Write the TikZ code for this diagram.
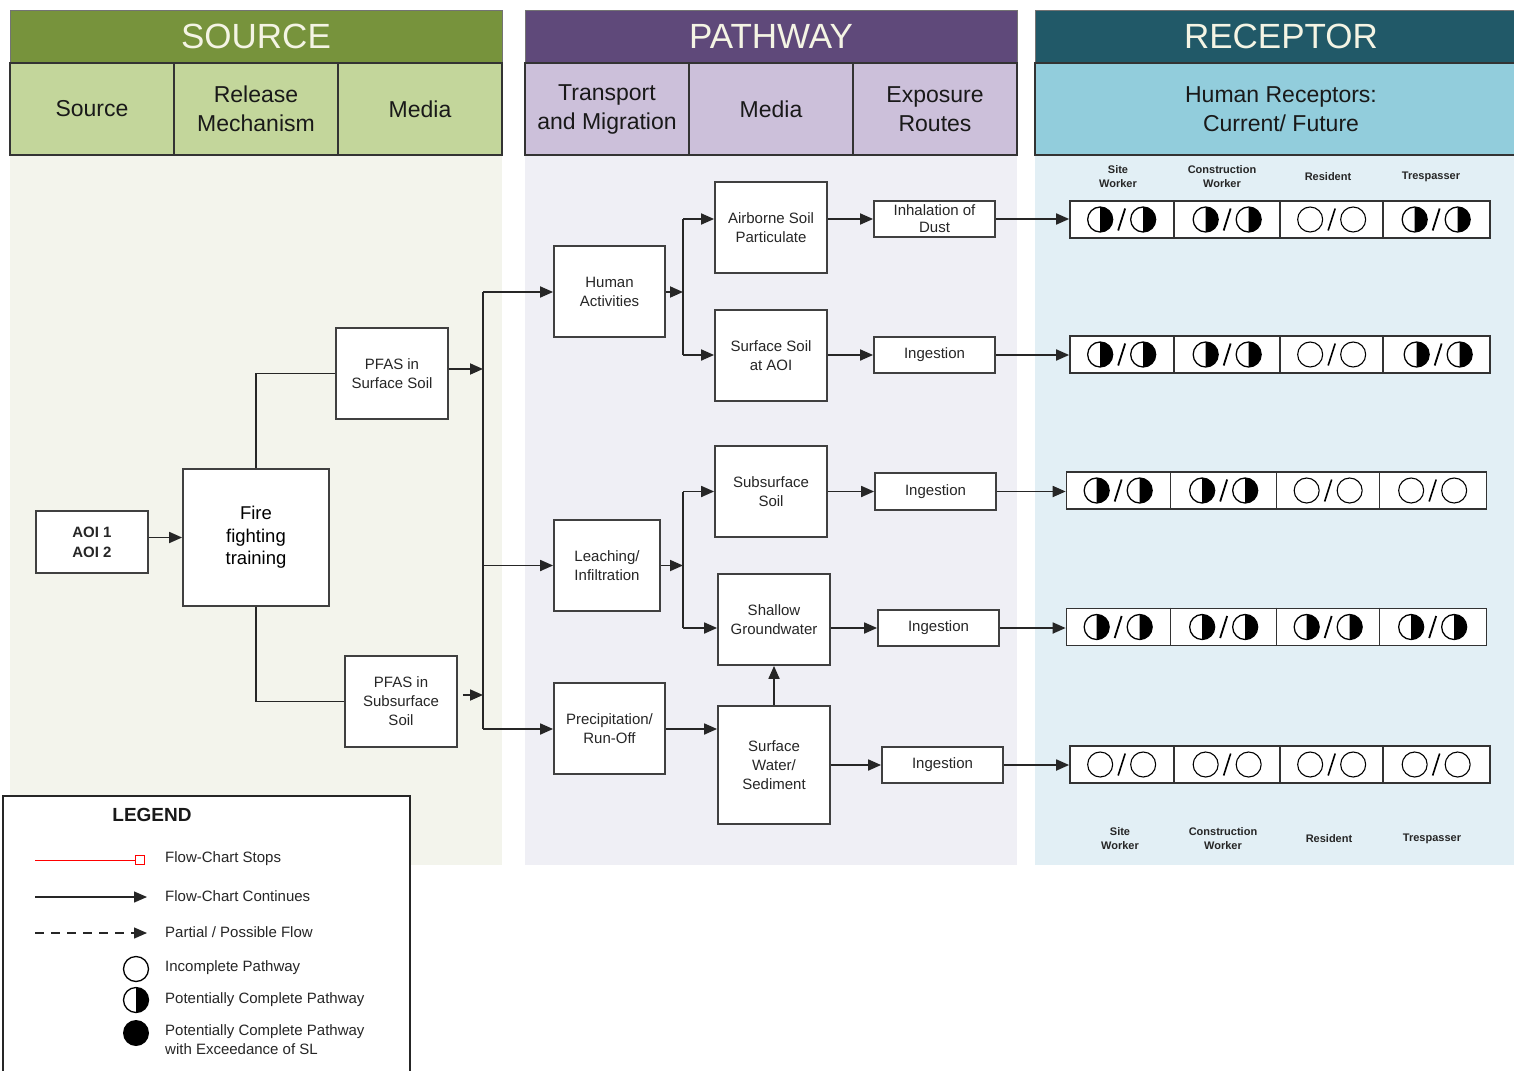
\documentclass[tikz,border=0pt]{standalone}
\usepackage{fontspec}
\setmainfont{Liberation Sans}
\usetikzlibrary{arrows.meta,calc}
\definecolor{srcH}{HTML}{77933C}
\definecolor{srcS}{HTML}{C3D69B}
\definecolor{srcB}{HTML}{F3F4EC}
\definecolor{patH}{HTML}{5F497A}
\definecolor{patS}{HTML}{CCC0DA}
\definecolor{patB}{HTML}{EFEFF5}
\definecolor{recH}{HTML}{215968}
\definecolor{recS}{HTML}{92CDDC}
\definecolor{recB}{HTML}{E2EFF5}
\definecolor{hdrtxt}{HTML}{F4F4E4}
\tikzset{
 box/.style={draw=black!75, fill=white, line width=1.8pt, align=center, inner sep=0pt,
   font=\fontsize{15}{19}\selectfont, text=black!85},
 arr/.style={draw=black!85, line width=1.8pt, -{Triangle[length=13pt,width=11pt]}},
 conn/.style={draw=black!85, line width=1.8pt},
 hdr/.style={draw=black!55, line width=0.8pt, inner sep=0pt, text=hdrtxt,
   font=\fontsize{35}{40}\selectfont},
 subcell/.style={draw=black!80, line width=1.4pt, inner sep=0pt, align=center,
   font=\fontsize{23}{29}\selectfont, text=black!90},
 rlab/.style={font=\bfseries\fontsize{11}{14}\selectfont, align=center, text=black!85, inner sep=0pt},
 rowbox/.style={draw=black!80, fill=white, line width=1.7pt, minimum width=420pt,
   minimum height=37pt, inner sep=0pt},
 legtext/.style={anchor=west, font=\fontsize{15}{19}\selectfont, text=black!85, align=left, inner sep=0pt},
 hh/.pic={
   \fill[black] (-21.5,12.5) arc[start angle=-90,end angle=90,radius=12.5pt] -- cycle;
   \draw[line width=1.3pt] (-21.5,0) circle[radius=12.5pt];
   \fill[black] (21.5,12.5) arc[start angle=-90,end angle=90,radius=12.5pt] -- cycle;
   \draw[line width=1.3pt] (21.5,0) circle[radius=12.5pt];
   \draw[line width=1.8pt] (-3.5,11) -- (3.5,-11);
 },
 oo/.pic={
   \draw[line width=1.1pt] (-21.5,0) circle[radius=12.5pt];
   \draw[line width=1.1pt] (21.5,0) circle[radius=12.5pt];
   \draw[line width=1.6pt] (-3.5,11) -- (3.5,-11);
 },
 hone/.pic={
   \fill[black] (0,12.5) arc[start angle=-90,end angle=90,radius=12.5pt] -- cycle;
   \draw[line width=1.3pt] (0,0) circle[radius=12.5pt];
 },
}
\begin{document}
\begin{tikzpicture}[x=1pt,y=-1pt]
\useasboundingbox (0,0) rectangle (1514,1070);
\fill[white] (0,0) rectangle (1514,1070);
% column bodies
\fill[srcB] (10,155) rectangle (502,865);
\fill[patB] (525,155) rectangle (1017,865);
\fill[recB] (1035,155) rectangle (1530,865);
% headers
\node[hdr, fill=srcH, minimum width=492pt, minimum height=53pt] (hS) at (256,36.5) {SOURCE};
\node[subcell, fill=srcS, minimum width=164pt, minimum height=92pt] (s1) at (92,109) {Source};
\node[subcell, fill=srcS, minimum width=164pt, minimum height=92pt] (s2) at (256,109) {Release\\Mechanism};
\node[subcell, fill=srcS, minimum width=164pt, minimum height=92pt] (s3) at (420,109) {Media};
\node[hdr, fill=patH, minimum width=492pt, minimum height=53pt] (hP) at (771,36.5) {PATHWAY};
\node[subcell, fill=patS, minimum width=164pt, minimum height=92pt] (p1) at (607,109) {Transport\\and Migration};
\node[subcell, fill=patS, minimum width=164pt, minimum height=92pt] (p2) at (771,109) {Media};
\node[subcell, fill=patS, minimum width=164pt, minimum height=92pt] (p3) at (935,109) {Exposure\\Routes};
\node[hdr, fill=recH, minimum width=492pt, minimum height=53pt] (hR) at (1281,36.5) {RECEPTOR};
\node[subcell, fill=recS, minimum width=492pt, minimum height=92pt] (r1) at (1281,109) {Human Receptors:\\Current/ Future};

% source boxes
\node[box, minimum width=112pt, minimum height=62pt, font=\bfseries\fontsize{15}{20}\selectfont] (aoi) at (92,542) {AOI 1\\AOI 2};
\node[box, minimum width=146pt, minimum height=137pt, font=\fontsize{18.5}{22.5}\selectfont, text=black] (fire) at (256,537.5) {Fire\\fighting\\training};
\node[box, minimum width=112pt, minimum height=91pt] (pss) at (392,373.5) {PFAS in\\Surface Soil};
\node[box, minimum width=112pt, minimum height=91pt] (psub) at (401,701.5) {PFAS in\\Subsurface\\Soil};
% pathway boxes
\node[box, minimum width=111pt, minimum height=91pt] (hum) at (609.5,291.5) {Human\\Activities};
\node[box, minimum width=106pt, minimum height=91pt] (leach) at (607,565.5) {Leaching/\\Infiltration};
\node[box, minimum width=111pt, minimum height=91pt] (precip) at (609.5,728.5) {Precipitation/\\Run-Off};
\node[box, minimum width=112pt, minimum height=91pt] (air) at (771,227.5) {Airborne Soil\\Particulate};
\node[box, minimum width=112pt, minimum height=91pt] (ssa) at (771,355.5) {Surface Soil\\at AOI};
\node[box, minimum width=112pt, minimum height=91pt] (subs) at (771,491.5) {Subsurface\\Soil};
\node[box, minimum width=112pt, minimum height=91pt] (sgw) at (774,619.5) {Shallow\\Groundwater};
\node[box, minimum width=112pt, minimum height=118pt] (swsed) at (774,765) {Surface\\Water/\\Sediment};
\node[box, minimum width=121pt, minimum height=36pt, font=\fontsize{15}{17}\selectfont] (inh) at (934.5,219) {Inhalation of\\Dust};
\node[box, minimum width=121pt, minimum height=36pt] (ing1) at (934.5,355) {Ingestion};
\node[box, minimum width=121pt, minimum height=37pt] (ing2) at (935.5,491.5) {Ingestion};
\node[box, minimum width=121pt, minimum height=36pt] (ing3) at (938.5,628) {Ingestion};
\node[box, minimum width=121pt, minimum height=36pt] (ing4) at (942.5,765) {Ingestion};

% source connectors
\draw[arr] (aoi.east |- fire.west) -- (fire.west);
\draw[conn] (fire.north) |- (pss.west);
\draw[conn] (fire.south) |- (psub.west);
\coordinate (busT) at (483,292);
\coordinate (busB) at (483,729);
\draw[conn] (busT) -- (busB);
\draw[arr] ([yshift=4.5pt]pss.east) -- ([yshift=4.5pt]pss.east -| busT);
\draw[arr] ([xshift=5pt,yshift=6.5pt]psub.east) -- ([yshift=6.5pt]psub.east -| busT);
\draw[arr] (busT) -- (busT -| hum.west);
\draw[arr] (busT |- leach.west) -- (leach.west);
\draw[arr] (busB) -- (busB -| precip.west);

% pathway connectors
\coordinate (hb) at (683,292);
\draw[arr] (hum.east |- hb) -- (hb);
\draw[conn] (hb |- inh) -- (hb |- ing1);
\draw[arr] (hb |- inh) -- (air.west |- inh);
\draw[arr] (hb |- ing1) -- (ssa.west |- ing1);
\coordinate (lb) at (683,565.5);
\draw[arr] (leach.east) -- (lb);
\draw[conn] (lb |- ing2) -- (lb |- ing3);
\draw[arr] (lb |- ing2) -- (subs.west |- ing2);
\draw[arr] (lb |- ing3) -- (sgw.west |- ing3);
\draw[arr] (precip.east |- busB) -- (swsed.west |- busB);
\draw[arr] (swsed.north) -- (sgw.south);
\draw[arr] (air.east |- inh) -- (inh.west);
\draw[arr] (ssa.east |- ing1) -- (ing1.west);
\draw[arr] (subs.east |- ing2) -- (ing2.west);
\draw[arr] (sgw.east |- ing3) -- (ing3.west);
\draw[arr] (swsed.east |- ing4) -- (ing4.west);

% receptor rows
\node[rowbox] (row1) at (1280,219.5) {};
\node[rowbox] (row2) at (1280,354.5) {};
\node[rowbox] (row3) at (1276.5,490.5) {};
\node[rowbox] (row4) at (1276.5,627) {};
\node[rowbox] (row5) at (1280,764.5) {};
\foreach \r in {row1,row2,row3,row4,row5}{
  \foreach \d in {105,211,314}{
    \draw[line width=1.4pt, black!80] ([xshift=\d pt]\r.north west) -- ([xshift=\d pt]\r.south west);
  }
}
\draw[arr] (inh.east) -- (row1.west |- inh.east);
\draw[arr] (ing1.east) -- (row2.west |- ing1.east);
\draw[arr] (ing2.east) -- (row3.west |- ing2.east);
\draw[arr] (ing3.east) -- (row4.west |- ing3.east);
\draw[arr] (ing4.east) -- (row5.west |- ing4.east);

\pic at ([xshift=52.5pt]row1.west) {hh};
\pic at ([xshift=158pt]row1.west) {hh};
\pic at ([xshift=262.5pt]row1.west) {oo};
\pic at ([xshift=367pt]row1.west) {hh};
\pic at ([xshift=52.5pt]row2.west) {hh};
\pic at ([xshift=158pt]row2.west) {hh};
\pic at ([xshift=262.5pt]row2.west) {oo};
\pic at ([xshift=369pt]row2.west) {hh};
\pic at ([xshift=52.5pt]row3.west) {hh};
\pic at ([xshift=158pt]row3.west) {hh};
\pic at ([xshift=262.5pt]row3.west) {oo};
\pic at ([xshift=367pt]row3.west) {oo};
\pic at ([xshift=52.5pt]row4.west) {hh};
\pic at ([xshift=158pt]row4.west) {hh};
\pic at ([xshift=262.5pt]row4.west) {hh};
\pic at ([xshift=367pt]row4.west) {hh};
\pic at ([xshift=52.5pt]row5.west) {oo};
\pic at ([xshift=158pt]row5.west) {oo};
\pic at ([xshift=262.5pt]row5.west) {oo};
\pic at ([xshift=367pt]row5.west) {oo};

\node[rlab] (t1) at (1118,177) {Site\\Worker};
\node[rlab] (t2) at (1222,177) {Construction\\Worker};
\node[rlab] (t3) at (1328,177) {Resident};
\node[rlab] (t4) at (1431,177) {Trespasser};
\node[rlab] (b1) at (1120,839) {Site\\Worker};
\node[rlab] (b2) at (1223,839) {Construction\\Worker};
\node[rlab] (b3) at (1329,839) {Resident};
\node[rlab] (b4) at (1432,839) {Trespasser};

% legend
\node[draw=black!85, fill=white, line width=1.5pt, minimum width=407pt, minimum height=290pt,
  anchor=north west, inner sep=0pt] (legend) at (2,795) {};
\node[font=\bfseries\fontsize{19}{22}\selectfont, text=black!90] (legT) at (152,815) {LEGEND};
\coordinate (l1a) at (35,860);
\node[draw=red, line width=1pt, minimum size=9pt, inner sep=0pt] (l1b) at (140,860) {};
\draw[red, line width=1pt] (l1a) -- (l1b.west);
\node[legtext] (l1t) at (165,859) {Flow-Chart Stops};
\coordinate (l2a) at (35,897);
\coordinate (l2b) at (147,897);
\draw[arr, line width=1.3pt] (l2a) -- (l2b);
\node[legtext] (l2t) at (165,896) {Flow-Chart Continues};
\coordinate (l3a) at (35,933);
\coordinate (l3b) at (147,933);
\draw[arr, line width=1.3pt, dash pattern=on 9pt off 7pt] (l3a) -- (l3b);
\node[legtext] (l3t) at (165,932) {Partial / Possible Flow};
\node[circle, draw, line width=1.3pt, minimum size=25pt, inner sep=0pt] (l4) at (136,969) {};
\node[legtext] (l4t) at (165,968) {Incomplete Pathway};
\pic (l5) at (136,1000) {hone};
\node[legtext] (l5t) at (165,1000) {Potentially Complete Pathway};
\node[circle, fill=black, minimum size=26pt, inner sep=0pt] (l6) at (136,1033) {};
\node[legtext] (l6t) at (165,1040) {Potentially Complete Pathway\\with Exceedance of SL};
\end{tikzpicture}
\end{document}
